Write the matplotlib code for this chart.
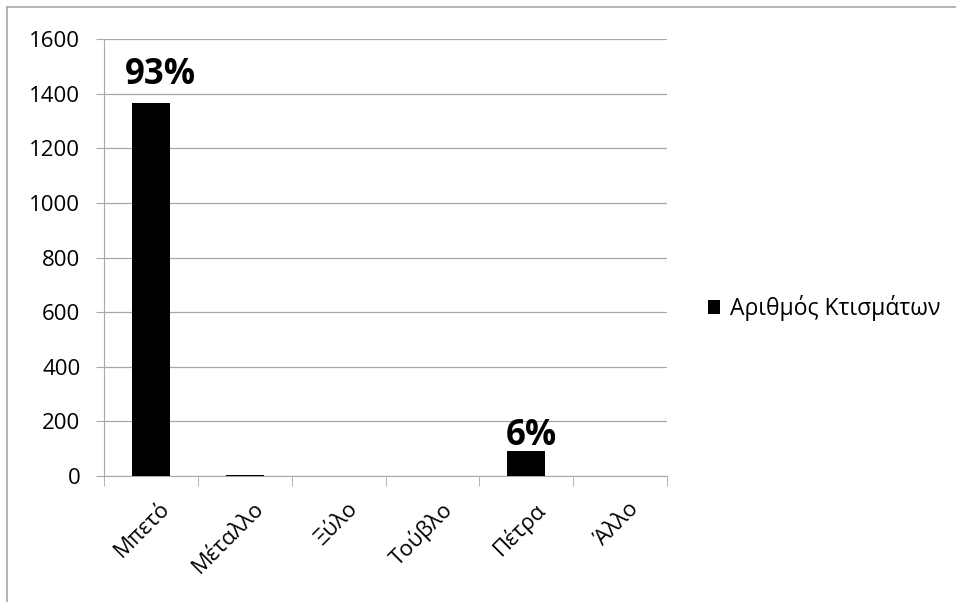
import matplotlib
matplotlib.use("Agg")
import matplotlib.pyplot as plt
from matplotlib.lines import Line2D
import matplotlib.transforms as mtrans
import numpy as np

categories = ["Μπετό", "Μέταλλο", "Ξύλο", "Τούβλο", "Πέτρα", "Άλλο"]
values = [1365, 5, 0, 0, 92, 0]
pct_labels = {0: "93%", 4: "6%"}
series_name = "Αριθμός Κτισμάτων"

plt.rcParams['font.family'] = ['Open Sans', 'DejaVu Sans']

W, H = 956, 602
fig = plt.figure(figsize=(W/100, H/100), dpi=100)
# partial outer frame (top and left edges visible)
fig.add_artist(Line2D([7/W, 1], [1-7/H, 1-7/H], transform=fig.transFigure, color="#a8a8a8", lw=1.2))
fig.add_artist(Line2D([7/W, 7/W], [0, 1-7/H], transform=fig.transFigure, color="#a8a8a8", lw=1.2))

ax = fig.add_axes([104/W, 1-476/H, (667-104)/W, 437/H])

x = np.arange(len(categories))
ax.bar(x, values, width=0.40, color="black", label=series_name, zorder=3)
ax.set_xlim(-0.5, len(categories)-0.5)
ax.set_ylim(0, 1600)
ax.set_yticks(range(0, 1601, 200))
ax.yaxis.grid(True, color="#a8a8a8", linewidth=0.9)
ax.set_axisbelow(True)
for s in ["top", "right"]:
    ax.spines[s].set_visible(False)
ax.spines["left"].set_color("#a8a8a8")
ax.spines["bottom"].set_color("#a8a8a8")
ax.tick_params(axis="y", labelsize=16, length=6, color="#a8a8a8", pad=11)
ax.set_xticks(x)
ax.set_xticklabels(categories, rotation=45, ha="right", rotation_mode="anchor", fontsize=16)
ax.tick_params(axis="x", length=0, pad=16)
shift = mtrans.ScaledTranslation(6/72, 0, fig.dpi_scale_trans)
for lab in ax.get_xticklabels():
    lab.set_transform(lab.get_transform() + shift)
ax.set_xticks(np.arange(-0.5, len(categories), 1), minor=True)
ax.tick_params(axis="x", which="minor", length=7, color="#a8a8a8")

label_offsets = {0: (7, 14), 4: (4, 4)}
for i, t in pct_labels.items():
    ax.annotate(t, (x[i], values[i]), xytext=label_offsets[i], textcoords="offset points",
                ha="center", va="baseline", fontsize=25, fontweight="bold")

fig.legend(handles=ax.get_legend_handles_labels()[0], labels=[series_name],
           loc="center left", bbox_to_anchor=(708/W, 1-308/H), bbox_transform=fig.transFigure,
           frameon=False, fontsize=16.5, borderpad=0, borderaxespad=0,
           handlelength=0.52, handleheight=0.52, handletextpad=0.45)

fig.savefig("out.png", dpi=100)
